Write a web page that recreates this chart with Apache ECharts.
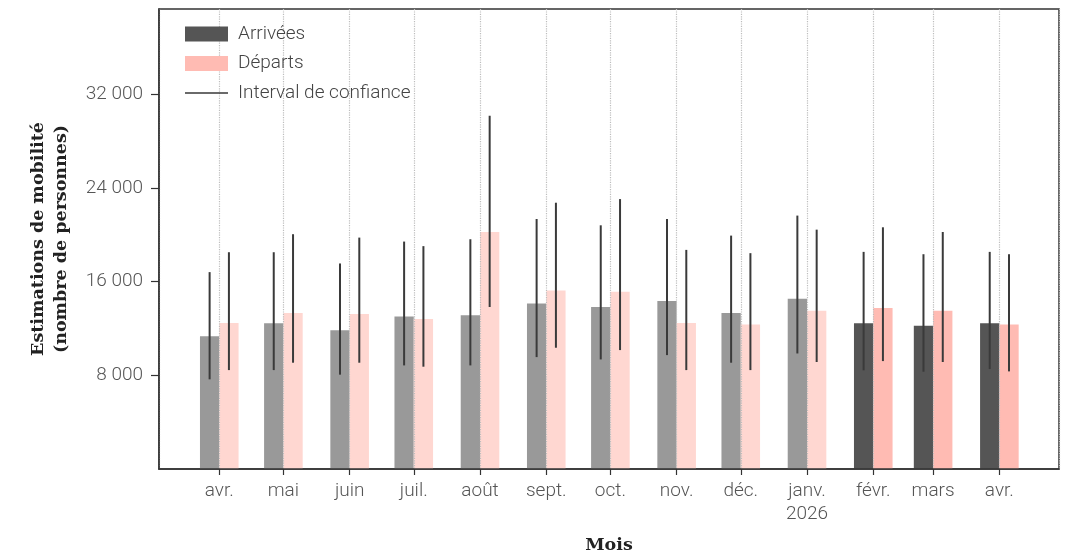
<!DOCTYPE html>
<html><head><meta charset="utf-8">
<script src="https://cdn.jsdelivr.net/npm/echarts@6/dist/echarts.min.js"></script>
<style>html,body{margin:0;padding:0;background:#fff}#c{width:1071px;height:555px}</style>
</head><body><div id="c"></div>
<script>
// ---- data ----
const months = ['2025-04','2025-05','2025-06','2025-07','2025-08','2025-09','2025-10','2025-11','2025-12','2026-01','2026-02','2026-03','2026-04'];
const arrivals       = [11350, 12450, 11850, 13020, 13130, 14150, 13840, 14350, 13330, 14550, 12450, 12230, 12450];
const arrivalsLow    = [7660, 8450, 8060, 8850, 8850, 9560, 9360, 9730, 9080, 9870, 8430, 8310, 8540];
const arrivalsHigh   = [16820, 18520, 17560, 19430, 19630, 21360, 20820, 21360, 19940, 21650, 18550, 18350, 18550];
const departures     = [12480, 13330, 13250, 12820, 20250, 15260, 15150, 12480, 12340, 13530, 13760, 13530, 12340];
const departuresLow  = [8450, 9080, 9080, 8740, 13840, 10360, 10160, 8450, 8450, 9140, 9220, 9140, 8340];
const departuresHigh = [18520, 20060, 19770, 19040, 30180, 22750, 23060, 18720, 18440, 20450, 20650, 20250, 18350];
const highlightFrom = '2026-02';
const yTicks = [8000, 16000, 24000, 32000];
const monthLabels = ['janv.','févr.','mars','avr.','mai','juin','juil.','août','sept.','oct.','nov.','déc.'];
const seriesNames = ['Arrivées', 'Départs', 'Interval de confiance'];

// ---- helpers ----
const DAY = 86400000;
const toTime = m => Date.UTC(+m.slice(0,4), +m.slice(5,7) - 1, 1);
const times = months.map(toTime);
const BAR_PX = 19.3;
const colors = {
  arr: '#555555', arrFaded: '#999999',
  dep: '#ffbbb3', depFaded: '#ffd7d1',
  err: '#3a3a3a'
};
function barData(vals) { return vals.map((v, i) => [times[i], v]); }
function barRender(side, strong, faded) {
  return function (params, api) {
    const t = api.value(0);
    const top = api.coord([t, api.value(1)]);
    const base = api.coord([t, 0]);
    const x = side < 0 ? top[0] - BAR_PX : top[0];
    const fill = months[params.dataIndex] >= highlightFrom ? strong : faded;
    return { type: 'rect', shape: { x: x, y: top[1], width: BAR_PX, height: base[1] - top[1] }, style: { fill: fill } };
  };
}
function errData(lo, hi) { return lo.map((l, i) => [times[i], l, hi[i]]); }
function errRender(side) {
  return function (params, api) {
    const t = api.value(0);
    const p1 = api.coord([t, api.value(1)]);
    const p2 = api.coord([t, api.value(2)]);
    const x = p1[0] + side * BAR_PX / 2;
    return { type: 'line', shape: { x1: x, y1: p1[1], x2: x, y2: p2[1] },
             style: { stroke: colors.err, lineWidth: 2 } };
  };
}
const fmtNum = v => String(v).replace(/\B(?=(\d{3})+(?!\d))/g, ' ');
const labelFont = 'Roboto';
const titleFont = 'DejaVu Serif';
const lineIcon = 'path://M0,0L0.01,0L0.01,0.01L0,0.01Z M0,6.75L43,6.75L43,8.25L0,8.25Z M42.99,14.99L43,14.99L43,15L42.99,15Z';

const chart = echarts.init(document.getElementById('c'), null, { renderer: 'canvas' });
chart.setOption({
  useUTC: true,
  animation: false,
  backgroundColor: '#fff',
  grid: { left: 159, right: 12, top: 9, bottom: 86, outerBoundsMode: 'none', containLabel: false, show: true, borderColor: '#333', borderWidth: 1.5, backgroundColor: 'transparent' },
  legend: {
    orient: 'vertical', left: 180, top: 19,
    data: [
      { name: seriesNames[0], icon: 'rect' },
      { name: seriesNames[1], icon: 'rect' },
      { name: seriesNames[2], icon: lineIcon }
    ],
    itemWidth: 43, itemHeight: 15, itemGap: 9.5,
    textStyle: { fontFamily: labelFont, fontWeight: 300, fontSize: 19, color: '#444', lineHeight: 20, padding: [0,0,0,5] }
  },
  xAxis: {
    type: 'time',
    z: 3,
    min: times[0] - 28.2 * DAY,
    max: times[times.length - 1] + 27.9 * DAY,
    minInterval: 28 * DAY, maxInterval: 31 * DAY,
    name: 'Mois', nameLocation: 'middle', nameGap: 67,
    nameTextStyle: { fontFamily: titleFont, fontWeight: 'bold', fontSize: 17.5, color: '#222' },
    axisLine: { lineStyle: { color: '#333', width: 1.5 } },
    axisTick: { show: true, length: 6, lineStyle: { color: '#333', width: 1.2 } },
    splitLine: { show: true, lineStyle: { type: 'dotted', color: '#bdbdbd', width: 1.2 } },
    axisLabel: {
      fontFamily: labelFont, fontWeight: 300, fontSize: 19, color: '#555', margin: 11, lineHeight: 23,
      formatter: function (v) {
        const d = new Date(v);
        const m = d.getUTCMonth();
        return m === 0 ? monthLabels[m] + '\n' + d.getUTCFullYear() : monthLabels[m];
      }
    }
  },
  yAxis: {
    type: 'value', min: 0, max: 39300,
    z: 3,
    name: 'Estimations de mobilité\n(nombre de personnes)', nameLocation: 'middle', nameGap: 86,
    nameTextStyle: { fontFamily: titleFont, fontWeight: 'bold', fontSize: 17.5, color: '#222', lineHeight: 23 },
    axisLine: { show: true, lineStyle: { color: '#333', width: 1.5 } },
    axisTick: { show: true, length: 8, customValues: yTicks, lineStyle: { color: '#333', width: 1.2 } },
    splitLine: { show: false },
    axisLabel: { customValues: yTicks, fontFamily: labelFont, fontWeight: 300, fontSize: 19, color: '#555', margin: 16, formatter: fmtNum }
  },
  series: [
    { name: seriesNames[0], type: 'custom', z: 2, renderItem: barRender(-1, colors.arr, colors.arrFaded), itemStyle: { color: colors.arr }, data: barData(arrivals), encode: { x: 0, y: 1 } },
    { name: seriesNames[1], type: 'custom', z: 2, renderItem: barRender(1, colors.dep, colors.depFaded), itemStyle: { color: colors.dep }, data: barData(departures), encode: { x: 0, y: 1 } },
    { name: seriesNames[2], type: 'custom', z: 5, renderItem: errRender(-1), itemStyle: { color: colors.err }, data: errData(arrivalsLow, arrivalsHigh), encode: { x: 0, y: [1, 2] } },
    { name: seriesNames[2], type: 'custom', z: 5, renderItem: errRender(1), itemStyle: { color: colors.err }, data: errData(departuresLow, departuresHigh), encode: { x: 0, y: [1, 2] } }
  ]
});
</script></body></html>
